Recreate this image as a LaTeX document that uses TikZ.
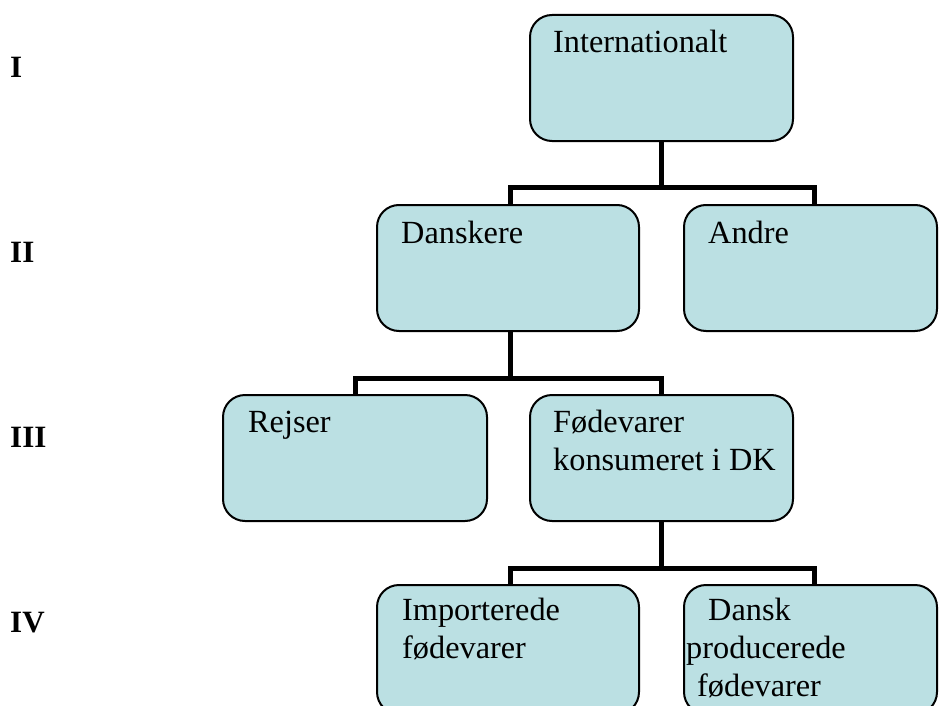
\documentclass[tikz,border=0pt]{standalone}
\usepackage{fontspec}
\setmainfont{Liberation Serif}
\definecolor{boxfill}{HTML}{BBE0E3}
\begin{document}
\begin{tikzpicture}[x=1pt,y=-1pt,
  box/.style={draw=black,line width=2pt,fill=boxfill,rounded corners=22pt},
  lbl/.style={anchor=base west,inner sep=0pt,font=\fontsize{32.3}{38}\selectfont},
  lvl/.style={anchor=base west,inner sep=0pt,font=\fontsize{31}{36}\selectfont\bfseries},
  conn/.style={draw=black,line width=5pt}]
\useasboundingbox (0,0) rectangle (939,706);
\begin{scope}
\clip (0,0) rectangle (939,706);
% boxes
\draw[box] (530,15) rectangle (793,141);
\draw[box] (377,205) rectangle (639,331);
\draw[box] (684,205) rectangle (937,331);
\draw[box] (223,395) rectangle (487,521);
\draw[box] (530,395) rectangle (793,521);
\draw[box] (377,585) rectangle (639,714);
\draw[box] (684,585) rectangle (937,714);
% anchor coordinates
\coordinate (intB) at (661,142);
\coordinate (danT) at (510,204);
\coordinate (andT) at (814,204);
\coordinate (danB) at (510,332);
\coordinate (rejT) at (355,394);
\coordinate (fodT) at (661,394);
\coordinate (fodB) at (661,522);
\coordinate (impT) at (510,584);
\coordinate (dpT) at (814,584);
\coordinate (bar1) at (661,187);
\coordinate (bar2) at (510,378);
\coordinate (bar3) at (661,568);
% connectors
\draw[conn] (intB) -- (bar1);
\draw[conn] (danT) |- (bar1) -| (andT);
\draw[conn] (danB) -- (bar2);
\draw[conn] (rejT) |- (bar2) -| (fodT);
\draw[conn] (fodB) -- (bar3);
\draw[conn] (impT) |- (bar3) -| (dpT);
% labels
\node[lbl] (tint) at (553,53) {Internationalt};
\node[lbl] (tdan) at (401,243) {Danskere};
\node[lbl] (tand) at (708,243) {Andre};
\node[lbl] (trej) at (248,432) {Rejser};
\node[lbl] (tfod1) at (553,432) {Fødevarer};
\node[lbl] (tfod2) at (553,470) {konsumeret i DK};
\node[lbl] (timp1) at (402,620) {Importerede};
\node[lbl] (timp2) at (402,658) {fødevarer};
\node[lbl] (tdp1) at (708,620) {Dansk};
\node[lbl] (tdp2) at (686,658) {producerede};
\node[lbl] (tdp3) at (697,696) {fødevarer};
% levels
\node[lvl] (l1) at (10,78) {I};
\node[lvl] (l2) at (10,262) {II};
\node[lvl] (l3) at (10,447) {III};
\node[lvl] (l4) at (10,632) {IV};
\end{scope}
\end{tikzpicture}
\end{document}
